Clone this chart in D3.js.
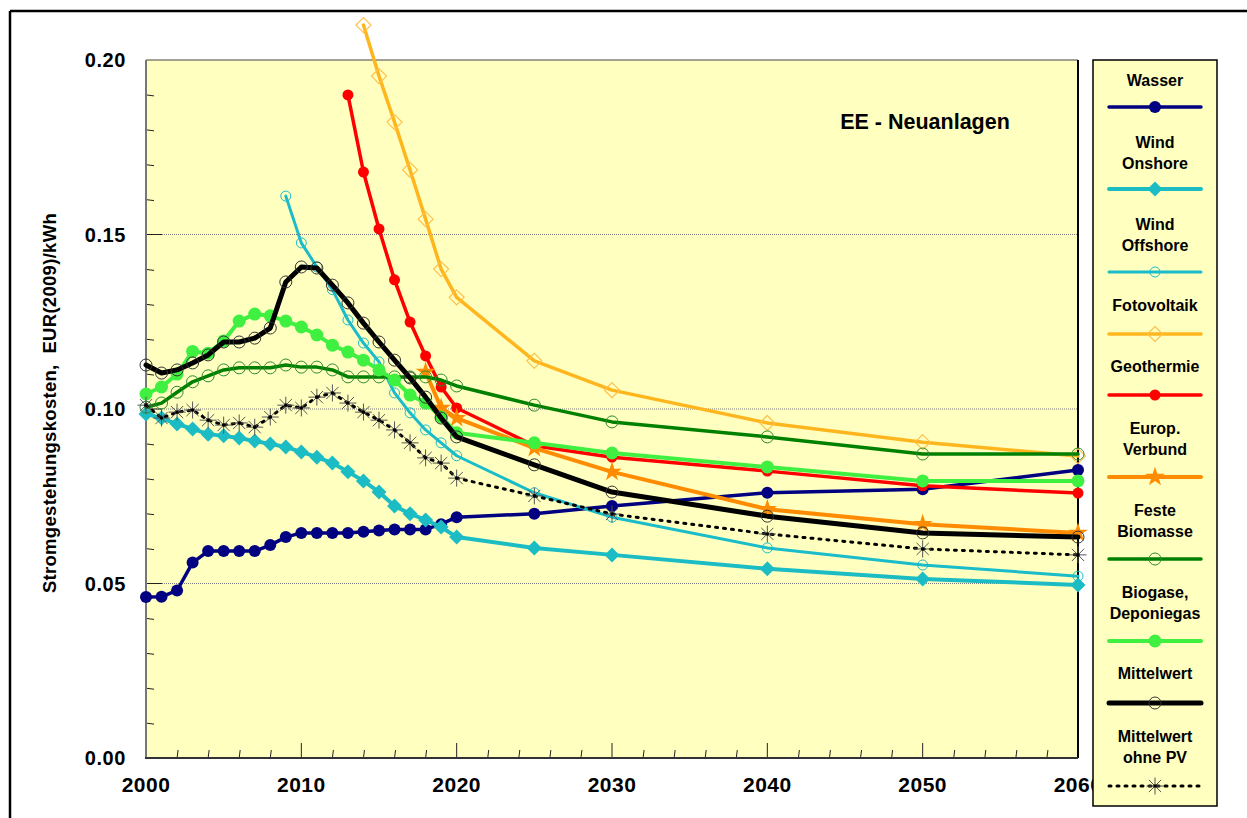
<!DOCTYPE html>
<html><head><meta charset="utf-8">
<script src="https://cdn.jsdelivr.net/npm/d3@7/dist/d3.min.js"></script>
<style>body{margin:0;background:#fff;}svg{display:block;font-family:Arial,"Liberation Sans",sans-serif;}</style>
</head><body><svg id="c" width="1247" height="818"></svg>
<script>
const yearsFull = [2000,2001,2002,2003,2004,2005,2006,2007,2008,2009,2010,2011,2012,2013,2014,2015,2016,2017,2018,2019,2020,2025,2030,2040,2050,2060];
const wasser = [0.0461,0.0462,0.048,0.056,0.0593,0.0593,0.0593,0.0593,0.061,0.0633,0.0645,0.0645,0.0645,0.0645,0.0648,0.0652,0.0655,0.0655,0.0655,0.067,0.069,0.070,0.0722,0.076,0.077,0.0825];
const windOnshore = [0.0986,0.0974,0.0957,0.0943,0.0928,0.0923,0.0917,0.0908,0.090,0.0891,0.0877,0.0862,0.0845,0.082,0.0794,0.0762,0.0722,0.070,0.0682,0.0662,0.0633,0.0602,0.0582,0.0542,0.0513,0.0496];
const yearsOffshore = [2009,2010,2011,2012,2013,2014,2015,2016,2017,2018,2019,2020,2025,2030,2040,2050,2060];
const windOffshore = [0.161,0.1476,0.1407,0.1342,0.1255,0.1189,0.1135,0.1046,0.0989,0.094,0.0903,0.0866,0.076,0.069,0.0602,0.0553,0.0521];
const yearsPV = [2014,2015,2016,2017,2018,2019,2020,2025,2030,2040,2050,2060];
const fotovoltaik = [0.210,0.1954,0.1822,0.1685,0.1544,0.1401,0.132,0.1138,0.1054,0.096,0.0905,0.0865];
const yearsGeo = [2013,2014,2015,2016,2017,2018,2019,2020,2025,2030,2040,2050,2060];
const geothermie = [0.190,0.1679,0.1516,0.137,0.1249,0.1152,0.1063,0.1003,0.0895,0.0862,0.0822,0.078,0.0759];
const yearsEU = [2018,2019,2020,2025,2030,2040,2050,2060];
const europVerbund = [0.1106,0.1003,0.0974,0.0888,0.082,0.0713,0.067,0.0645];
const festeBiomasse = [0.1005,0.1017,0.1048,0.1078,0.1095,0.1112,0.1118,0.1118,0.1118,0.1126,0.1120,0.1120,0.1112,0.1092,0.1092,0.1092,0.1092,0.1092,0.1092,0.1083,0.1066,0.1011,0.0963,0.092,0.0871,0.0871];
const biogase = [0.1043,0.1063,0.110,0.1165,0.116,0.1195,0.1252,0.1272,0.1267,0.1252,0.1235,0.1212,0.1183,0.1163,0.114,0.1112,0.1083,0.104,0.1017,0.0977,0.0932,0.0903,0.0874,0.0834,0.0794,0.0794];
const mittelwert = [0.1126,0.1103,0.1112,0.1132,0.1155,0.1192,0.1192,0.1203,0.1232,0.1364,0.1407,0.1404,0.1355,0.1304,0.1246,0.1192,0.114,0.1089,0.1034,0.0974,0.092,0.084,0.0762,0.0693,0.0645,0.0633];
const mittelwertOhnePV = [0.1011,0.0974,0.0991,0.0997,0.0968,0.0954,0.096,0.0948,0.0977,0.1011,0.1003,0.1034,0.1046,0.1017,0.0991,0.0968,0.094,0.0903,0.086,0.0845,0.0802,0.0751,0.0699,0.0642,0.0599,0.0582];
const yTicks = [0.00,0.05,0.10,0.15,0.20];
const xTicks = [2000,2010,2020,2030,2040,2050,2060];
const legendLabels = [["Wasser"],["Wind","Onshore"],["Wind","Offshore"],["Fotovoltaik"],["Geothermie"],["Europ.","Verbund"],["Feste","Biomasse"],["Biogase,","Deponiegas"],["Mittelwert"],["Mittelwert","ohne PV"]];

const series = [
  {name:"Wasser", x:yearsFull, y:wasser, color:"#000080", w:3.5, marker:"circleFilled", mc:"#000080", ms:6},
  {name:"Wind Onshore", x:yearsFull, y:windOnshore, color:"#1CBCC4", w:4, marker:"diamondFilled", mc:"#1CBCC4", ms:7.5},
  {name:"Wind Offshore", x:yearsOffshore, y:windOffshore, color:"#1ABCCA", w:3, marker:"circleOpen", mc:"#1ABCCA", ms:5},
  {name:"Fotovoltaik", x:yearsPV, y:fotovoltaik, color:"#FFB61E", w:3.5, marker:"diamondOpen", mc:"#FFC04A", ms:7.5},
  {name:"Geothermie", x:yearsGeo, y:geothermie, color:"#FF0000", w:3.5, marker:"circleFilled", mc:"#FF0000", ms:5.5},
  {name:"Europ. Verbund", x:yearsEU, y:europVerbund, color:"#FF8C00", w:4, marker:"star", mc:"#FF8C00", ms:8},
  {name:"Feste Biomasse", x:yearsFull, y:festeBiomasse, color:"#008000", w:3.5, marker:"circleOpen", mc:"#2E8B2E", ms:6},
  {name:"Biogase", x:yearsFull, y:biogase, color:"#40F040", w:4, marker:"circleFilled", mc:"#40F040", ms:6.5},
  {name:"Mittelwert", x:yearsFull, y:mittelwert, color:"#000000", w:5, marker:"circleOpen", mc:"#333333", ms:6},
  {name:"Mittelwert ohne PV", x:yearsFull, y:mittelwertOhnePV, color:"#000000", w:3, dash:"2,6", marker:"asterisk", mc:"#555555", ms:8.5}
];

const svg = d3.select("#c");
const L=146, R=1078, T=60, B=758;
const x = d3.scaleLinear().domain([2000,2060]).range([L,R]);
const y = d3.scaleLinear().domain([0,0.20]).range([B,T]);

// outer frame lines
svg.append("line").attr("x1",10).attr("x2",1247).attr("y1",11).attr("y2",11).attr("stroke","#000").attr("stroke-width",2.5);
svg.append("line").attr("x1",10).attr("x2",10).attr("y1",11).attr("y2",818).attr("stroke","#000").attr("stroke-width",2.5);

// plot background
svg.append("rect").attr("x",L).attr("y",T).attr("width",R-L).attr("height",B-T).attr("fill","#FFFFC0");

// gridlines
svg.append("g").selectAll("line").data([0.05,0.10,0.15]).join("line")
  .attr("x1",L).attr("x2",R).attr("y1",d=>y(d)).attr("y2",d=>y(d))
  .attr("stroke","#7a7a7a").attr("stroke-width",1).attr("stroke-dasharray","1,1");

// y minor ticks
const yMinor = d3.range(1,20).map(i=>i/100);
svg.append("g").selectAll("line").data(yMinor).join("line")
  .attr("x1",L).attr("x2",d=> (Math.round(d*100)%5===0)?L+16:L+8)
  .attr("y1",d=>y(d)).attr("y2",d=>y(d)+ ((Math.round(d*100)%5===0)?0:1))
  .attr("stroke","#222").attr("stroke-width",1);

// x minor ticks
const xMinor = d3.range(2002,2060,2);
svg.append("g").selectAll("line").data(xMinor).join("line")
  .attr("x1",d=>x(d)).attr("x2",d=>x(d)+ (d%10===0?0:1))
  .attr("y1",B).attr("y2",d=> d%10===0? B-15 : B-8)
  .attr("stroke","#222").attr("stroke-width",1);

// axes frame
svg.append("line").attr("x1",L).attr("x2",R).attr("y1",T).attr("y2",T).attr("stroke","#444").attr("stroke-width",1);
svg.append("line").attr("x1",R).attr("x2",R).attr("y1",T).attr("y2",B).attr("stroke","#000").attr("stroke-width",2);
svg.append("line").attr("x1",L).attr("x2",L).attr("y1",T).attr("y2",B).attr("stroke","#777").attr("stroke-width",2);
svg.append("line").attr("x1",L-1).attr("x2",R).attr("y1",B).attr("y2",B).attr("stroke","#333").attr("stroke-width",2);

// tick labels
svg.append("g").selectAll("text").data(yTicks).join("text")
  .attr("x",126).attr("y",d=>y(d)+7).attr("text-anchor","end")
  .attr("font-size",20).attr("font-weight","bold").attr("letter-spacing",0.6).text(d=>d.toFixed(2));
svg.append("g").selectAll("text").data(xTicks).join("text")
  .attr("x",d=>x(d)).attr("y",792).attr("text-anchor","middle")
  .attr("font-size",21).attr("font-weight","bold").attr("letter-spacing",0.5).text(d=>d);

// y label
svg.append("text").attr("transform","translate(56,403) rotate(-90)").attr("text-anchor","middle")
  .attr("font-size",18.5).attr("font-weight","bold").attr("letter-spacing",0.3).attr("xml:space","preserve")
  .text("Stromgestehungskosten,  EUR(2009)/kWh");

// annotation
svg.append("text").attr("x",925).attr("y",129).attr("text-anchor","middle")
  .attr("font-size",21.5).attr("font-weight","bold").text("EE - Neuanlagen");

function drawMarker(g, s, cx, cy){
  const m = s.marker, r = s.ms;
  if(m==="circleFilled"){
    g.append("circle").attr("cx",cx).attr("cy",cy).attr("r",r).attr("fill",s.mc);
  } else if(m==="circleOpen"){
    g.append("circle").attr("cx",cx).attr("cy",cy).attr("r",r).attr("fill","none").attr("stroke",s.mc).attr("stroke-width",1);
  } else if(m==="diamondFilled"){
    g.append("path").attr("d",`M${cx},${cy-r}L${cx+r},${cy}L${cx},${cy+r}L${cx-r},${cy}Z`).attr("fill",s.mc);
  } else if(m==="diamondOpen"){
    g.append("path").attr("d",`M${cx},${cy-r}L${cx+r},${cy}L${cx},${cy+r}L${cx-r},${cy}Z`).attr("fill","none").attr("stroke",s.mc).attr("stroke-width",1.2);
  } else if(m==="star"){
    g.append("path").attr("d",d3.symbol().type(d3.symbolStar).size(120)()).attr("transform",`translate(${cx},${cy})`).attr("fill",s.mc);
  } else if(m==="asterisk"){
    const a = r, b = r*0.72;
    g.append("path").attr("d",`M${cx-a},${cy}L${cx+a},${cy}M${cx},${cy-a}L${cx},${cy+a}M${cx-b},${cy-b}L${cx+b},${cy+b}M${cx-b},${cy+b}L${cx+b},${cy-b}`)
      .attr("stroke",s.mc).attr("stroke-width",1).attr("fill","none");
    g.append("circle").attr("cx",cx).attr("cy",cy).attr("r",1.8).attr("fill","#000");
  }
}

const line = d3.line().x(d=>x(d[0])).y(d=>y(d[1]));
const gSeries = svg.append("g");
series.forEach(s=>{
  const pts = s.x.map((v,i)=>[v,s.y[i]]);
  const g = gSeries.append("g");
  g.append("path").attr("d",line(pts)).attr("fill","none").attr("stroke",s.color)
    .attr("stroke-width",s.w).attr("stroke-linejoin","round").attr("stroke-linecap","round")
    .attr("stroke-dasharray",s.dash||null);
  pts.forEach(p=>drawMarker(g,s,x(p[0]),y(p[1])));
});

// legend
const lg = svg.append("g");
lg.append("rect").attr("x",1093).attr("y",60).attr("width",124).attr("height",746).attr("fill","#FFFFC0").attr("stroke","#000").attr("stroke-width",1.5);
const legendLayout = [[80,107],[142,189],[224,272],[305,334],[366,395],[428,477],[510,559],[592,641],[673,703],[736,786]];
legendLabels.forEach((lab,i)=>{
  const s = series[i];
  const [ty, ly] = legendLayout[i];
  lab.forEach((t,j)=>{
    lg.append("text").attr("x",1155).attr("y",ty+j*21+6).attr("text-anchor","middle")
      .attr("font-size",16).attr("font-weight","bold").text(t);
  });
  lg.append("line").attr("x1",1109).attr("x2",1201).attr("y1",ly).attr("y2",ly)
    .attr("stroke",s.color).attr("stroke-width",s.w).attr("stroke-dasharray",s.dash||null).attr("stroke-linecap","round");
  drawMarker(lg, s, 1155, ly);
});
</script></body></html>
